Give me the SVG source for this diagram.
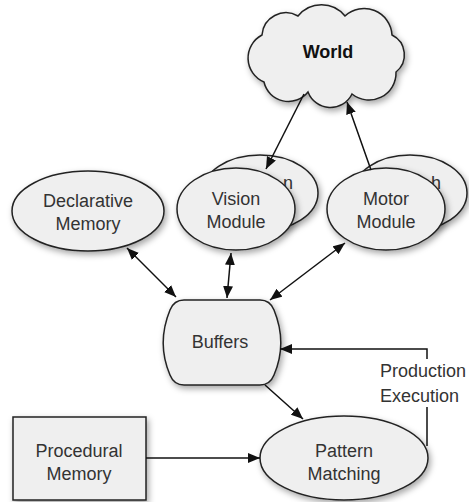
<svg xmlns="http://www.w3.org/2000/svg" width="469" height="502" viewBox="0 0 469 502">
<defs>
<filter id="sh" x="-20%" y="-20%" width="150%" height="150%">
<feDropShadow dx="2" dy="3" stdDeviation="3" flood-color="#000" flood-opacity="0.35"/>
</filter>
<marker id="ah" viewBox="0 0 12 10" refX="12" refY="5" markerWidth="12" markerHeight="10" markerUnits="userSpaceOnUse" orient="auto-start-reverse">
<path d="M0,0 L12,5 L0,10 Z" fill="#111"/>
</marker>
</defs>
<style>
.shape{fill:#efefef;stroke:#222;stroke-width:1.5;filter:url(#sh)}
.t{font-family:"Liberation Sans",Arial,sans-serif;font-size:18px;fill:#333;text-anchor:middle}
.ts{text-anchor:start}
.tb{font-weight:bold;fill:#111}
.lbl{font-family:"Liberation Sans",Arial,sans-serif;font-size:18px;fill:#333}
.c{fill:none;stroke:#111;stroke-width:1.5}
</style>
<rect width="469" height="502" fill="#fff"/>
<g id="world">
<path class="shape" d="M262,35 A24,24 0 0 1 298,16 A30,30 0 0 1 345,16 A28,28 0 0 1 392,35 A22,22 0 0 1 396,72 A27,27 0 0 1 352,94 A24,24 0 0 1 308,92 A25,25 0 0 1 264,82 A26,26 0 0 1 262,35 Z"/>
<text class="t tb" x="328" y="58">World</text>
</g>
<g id="audition-module">
<ellipse class="shape" cx="260" cy="193" rx="58" ry="38"/>
<text class="t ts" x="283" y="189">n</text>
</g>
<g id="speech-module">
<ellipse class="shape" cx="410" cy="193" rx="57" ry="38"/>
<text class="t ts" x="431" y="189">h</text>
</g>
<g id="vision-module">
<ellipse class="shape" cx="236" cy="209" rx="59" ry="41"/>
<text class="t" x="236" y="205">Vision</text>
<text class="t" x="236" y="228">Module</text>
</g>
<g id="motor-module">
<ellipse class="shape" cx="386" cy="209" rx="59" ry="41"/>
<text class="t" x="386" y="205">Motor</text>
<text class="t" x="386" y="228">Module</text>
</g>
<g id="declarative-memory">
<ellipse class="shape" cx="88" cy="211" rx="76" ry="40"/>
<text class="t" x="88" y="207">Declarative</text>
<text class="t" x="88" y="230">Memory</text>
</g>
<g id="buffers">
<path class="shape" d="M184,300 H260 Q270,300 274,310 C283,332 283,354 274,375 Q270,385 260,385 H184 Q174,385 170,375 C161,354 161,332 170,310 Q174,300 184,300 Z"/>
<text class="t" x="220" y="348">Buffers</text>
</g>
<g id="procedural-memory">
<rect class="shape" x="13" y="417" width="133" height="83"/>
<text class="t" x="79" y="457">Procedural</text>
<text class="t" x="79" y="480">Memory</text>
</g>
<g id="pattern-matching">
<ellipse class="shape" cx="344" cy="458" rx="84" ry="42"/>
<text class="t" x="344" y="457">Pattern</text>
<text class="t" x="344" y="480">Matching</text>
</g>
<g id="connectors">
<path class="c" d="M304,94 L266,169" marker-end="url(#ah)"/>
<path class="c" d="M371,170 L347,102" marker-end="url(#ah)"/>
<path class="c" d="M127,248 L176,297" marker-start="url(#ah)" marker-end="url(#ah)"/>
<path class="c" d="M231,253 L227,298" marker-start="url(#ah)" marker-end="url(#ah)"/>
<path class="c" d="M345,243 L270,300" marker-start="url(#ah)" marker-end="url(#ah)"/>
<path class="c" d="M265,385 L303,419" marker-end="url(#ah)"/>
<path class="c" d="M146,458 L260,458" marker-end="url(#ah)"/>
<path class="c" d="M427,446 V407 M427,359 V349 H280" marker-end="url(#ah)"/>
<text class="lbl" x="380" y="377">Production</text>
<text class="lbl" x="380" y="402">Execution</text>
</g>
</svg>
